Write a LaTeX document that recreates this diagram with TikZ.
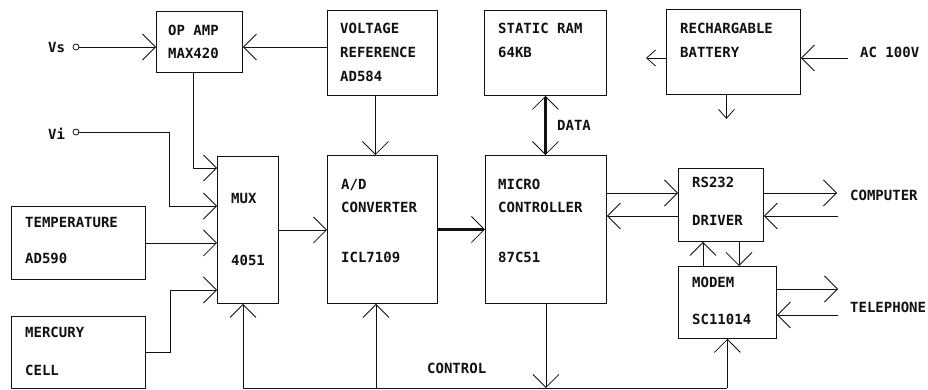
\documentclass[tikz,border=0pt]{standalone}
\usepackage{fontspec}
\newfontfamily\plotter{DejaVu Sans Mono}
\usetikzlibrary{arrows.meta,positioning,calc}
\definecolor{ink}{HTML}{111111}
\tikzset{
  >={Straight Barb[length=13pt,width=26pt,line width=0.8pt]},
  every node/.style={text=ink},
  blk/.style={draw=ink,line width=0.9pt,anchor=north west,inner sep=0pt},
  lbl/.style={font=\plotter\bfseries\fontsize{14}{23}\selectfont,anchor=north west,inner sep=0pt,align=left},
  sig/.style={->,line width=0.8pt,draw=ink},
  wire/.style={line width=0.8pt,draw=ink},
  bus/.style={->,line width=2.6pt,draw=ink},
  small/.style={-{Straight Barb[length=9pt,width=16pt,line width=0.8pt]},line width=0.8pt,draw=ink},
  term/.style={circle,draw=ink,line width=0.8pt,inner sep=0pt,minimum size=6pt},
}

\begin{document}
\begin{tikzpicture}[x=1pt,y=-1pt]
\useasboundingbox (0,0) rectangle (928,390);

% top row
\node[blk,minimum width=86pt,minimum height=61pt] (opamp) at (156,11) {};
\node[lbl] (opampt) at ($(opamp.north west)+(12,14)$) {OP AMP\\MAX420};
\node[blk,minimum width=110pt,minimum height=85pt] (vref) at (327,10) {};
\node[lbl] (vreft) at ($(vref.north west)+(13,13)$) {VOLTAGE\\[1pt]REFERENCE\\[1pt]AD584};
\node[blk,minimum width=122pt,minimum height=85pt] (ram) at (484,10) {};
\node[lbl] (ramt) at ($(ram.north west)+(14,13)$) {STATIC RAM\\[1pt]64KB};
\node[blk,minimum width=134pt,minimum height=85pt] (batt) at (666,9) {};
\node[lbl] (battt) at ($(batt.north west)+(14,14)$) {RECHARGABLE\\[1pt]BATTERY};
\node[lbl] (ac) at (860,47) {AC 100V};

% inputs
\node[lbl] (vsl) at (48,42) {Vs};
\node[term] (vs) at (76,47) {};
\node[lbl] (vil) at (48,128) {Vi};
\node[term] (vi) at (76,132) {};
\node[blk,minimum width=134pt,minimum height=73pt] (temp) at (11,206) {};
\node[lbl] (tempt) at ($(temp.north west)+(14,11)$) {TEMPERATURE\\[13pt]AD590};
\node[blk,minimum width=134pt,minimum height=72pt] (merc) at (11,316) {};
\node[lbl] (merct) at ($(merc.north west)+(14,11)$) {MERCURY\\[15pt]CELL};

% middle row
\node[blk,minimum width=61pt,minimum height=147pt] (mux) at (217,156) {};
\node[lbl] (muxt) at ($(mux.north west)+(14,37)$) {MUX\\[39pt]4051};
\node[blk,minimum width=110pt,minimum height=148pt] (adc) at (327,155) {};
\node[lbl] (adct) at ($(adc.north west)+(14,24)$) {A/D\\CONVERTER\\[27pt]ICL7109};
\node[blk,minimum width=121pt,minimum height=148pt] (mcu) at (485,155) {};
\node[lbl] (mcut) at ($(mcu.north west)+(13,24)$) {MICRO\\CONTROLLER\\[27pt]87C51};
\node[lbl] (data) at (557,120) {DATA};

% right: serial and modem
\node[blk,minimum width=85pt,minimum height=73pt] (rs) at (678,168) {};
\node[lbl] (rst) at ($(rs.north west)+(14,9)$) {RS232\\[15pt]DRIVER};
\node[blk,minimum width=98pt,minimum height=72pt] (modem) at (678,266) {};
\node[lbl] (modemt) at ($(modem.north west)+(14,11)$) {MODEM\\[14pt]SC11014};
\node[lbl] (pc) at (850,190) {COMPUTER};
\node[lbl] (tel) at (850,302) {TELEPHONE};
\node[lbl] (ctrl) at (427,363) {CONTROL};

% analog side
\draw[sig] (vs.east) -- (vs.east -| opamp.west);
\draw[sig] (vref.west |- vs) -- (opamp.east |- vs);
\draw[sig] ([xshift=-6pt]opamp.south) |- ([yshift=-12pt]mux.north west);
\draw[sig] (vi.east) -- ++(90,0) |- ([yshift=-50pt]mux.north west);
\draw[sig] (temp.east) -- (temp.east -| mux.west);
\draw[sig] (merc.east) -- ++(24,0) |- ([yshift=-134pt]mux.north west);
\draw[sig] (mux.east) -- (mux.east -| adc.west);
\draw[sig] ([xshift=-7pt]vref.south) -- ([xshift=-7pt]vref.south |- adc.north);
\draw[bus] (adc.east) -- (adc.east -| mcu.west);
\draw[bus,<->] (ram.south) -- (ram.south |- mcu.north);

% battery
\coordinate (acin) at (848,58);
\draw[sig] (acin) -- (acin -| batt.east);
\draw[small] (acin -| batt.west) -- ++(-20,0);
\draw[small] ([xshift=-7pt]batt.south) -- ++(0,24);

% serial links
\coordinate (tx) at ([yshift=-25pt]rs.north west);
\coordinate (rx) at ([yshift=-48pt]rs.north west);
\coordinate (pcout) at (837,193);
\coordinate (pcin) at (838,216);
\draw[sig] (tx -| mcu.east) -- (tx);
\draw[sig] (rx) -- (rx -| mcu.east);
\draw[sig] (tx -| rs.east) -- (pcout);
\draw[sig] (pcin) -- (pcin -| rs.east);
\coordinate (up) at ([xshift=25pt]modem.north west);
\coordinate (dn) at ([xshift=61pt]rs.south west);
\draw[sig] (up) -- (up |- rs.south);
\draw[sig] (dn) -- (dn |- modem.north);
\coordinate (telout) at (838,289);
\coordinate (telin) at (838,315);
\draw[sig] (telout -| modem.east) -- (telout);
\draw[sig] (telin) -- (telin -| modem.east);

% control bus
\coordinate (busl) at (243,388);
\coordinate (busr) at (modem.south |- busl);
\coordinate (busa) at (376,388);
\draw[wire] (busl) -- (busr);
\draw[sig] (busl) -- (busl |- mux.south);
\draw[sig] (busa) -- (busa |- adc.south);
\draw[sig] (mcu.south) -- (mcu.south |- busl);
\draw[sig] (busr) -- (modem.south);

\end{tikzpicture}
\end{document}
